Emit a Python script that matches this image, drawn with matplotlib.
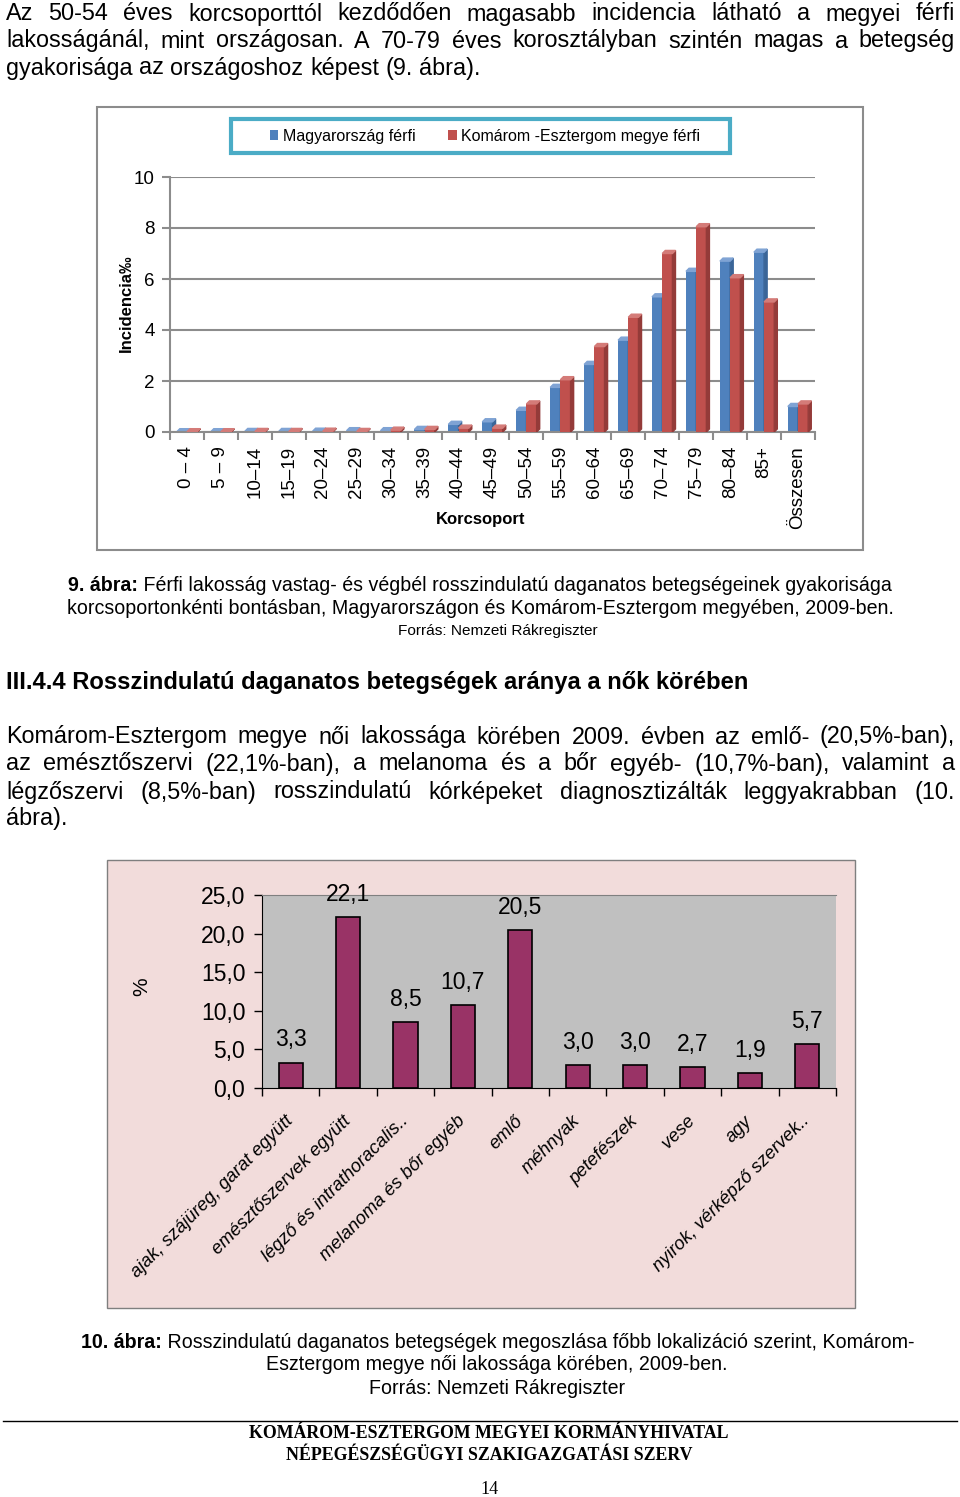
import matplotlib.pyplot as plt
from matplotlib.patches import Rectangle, Polygon
from matplotlib.lines import Line2D
from matplotlib.ticker import FixedLocator
import numpy as np

# --- data: chart 9 (male incidence per mille) ---
age_groups = ['0 – 4', '5 – 9', '10–14', '15–19', '20–24', '25–29', '30–34', '35–39',
              '40–44', '45–49', '50–54', '55–59', '60–64', '65–69', '70–74', '75–79',
              '80–84', '85+', 'Összesen']
hungary_male = [0.01, 0.01, 0.02, 0.02, 0.03, 0.05, 0.05, 0.10, 0.30, 0.40,
                0.85, 1.75, 2.65, 3.60, 5.30, 6.30, 6.70, 7.05, 1.00]
county_male = [0.01, 0.01, 0.02, 0.02, 0.03, 0.02, 0.07, 0.10, 0.15, 0.15,
               1.10, 2.05, 3.35, 4.50, 7.00, 8.05, 6.05, 5.10, 1.10]
series_names = ['Magyarország férfi', 'Komárom -Esztergom megye férfi']
y1_ticks = [0, 2, 4, 6, 8, 10]

# --- data: chart 10 (female cancer distribution, %) ---
sites = ['ajak, szájüreg, garat együtt', 'emésztőszervek együtt',
         'légző és intrathoracalis..', 'melanoma és bőr egyéb', 'emlő', 'méhnyak',
         'petefészek', 'vese', 'agy', 'nyirok, vérképző szervek..']
site_pct = [3.3, 22.1, 8.5, 10.7, 20.5, 3.0, 3.0, 2.7, 1.9, 5.7]
y2_ticks = [0, 5, 10, 15, 20, 25]

W, H = 960, 1497
plt.rcParams['font.family'] = ['Liberation Sans', 'DejaVu Sans']
fig = plt.figure(figsize=(W / 100, H / 100), dpi=100)
renderer = fig.canvas.get_renderer()


def fx(x):
    return x / W


def fy(y):
    return 1 - y / H


def width_of(t):
    return t.get_window_extent(renderer).width


def justify(line, y, size, x0=6, x1=955, last=False, weight='normal'):
    words = line.split()
    ts = [fig.text(0, fy(y), w, fontsize=size, va='center', fontweight=weight) for w in words]
    ws = [width_of(t) for t in ts]
    if last or len(ts) == 1:
        gap = size * 0.278 * 100 / 72
    else:
        gap = (x1 - x0 - sum(ws)) / (len(ts) - 1)
    x = x0
    for t, w in zip(ts, ws):
        t.set_x(fx(x))
        x += w + gap


def fit(parts, target, family=None):
    ts = [fig.text(0, 0, s, fontsize=12, fontweight=wt, family=family) for s, wt in parts]
    w = sum(width_of(t) for t in ts)
    for t in ts:
        t.remove()
    return 12 * target / w


def centered(parts, y, size, cx=480, family=None):
    ts = [fig.text(0, fy(y), s, fontsize=size, fontweight=wt, va='center', family=family)
          for s, wt in parts]
    ws = [width_of(t) for t in ts]
    x = cx - sum(ws) / 2
    for t, w in zip(ts, ws):
        t.set_x(fx(x))
        x += w


# ---------------- page text ----------------
ps = 16.8
justify('Az 50-54 éves korcsoporttól kezdődően magasabb incidencia látható a megyei férfi', 14, ps)
justify('lakosságánál, mint országosan. A 70-79 éves korosztályban szintén magas a betegség', 41, ps)
justify('gyakorisága az országoshoz képest (9. ábra).', 68, ps, last=True)

cap9 = [('9. ábra:', 'bold'),
        (' Férfi lakosság vastag- és végbél rosszindulatú daganatos betegségeinek gyakorisága', 'normal')]
cs = fit(cap9, 822)
centered(cap9, 585, cs)
centered([('korcsoportonkénti bontásban, Magyarországon és Komárom-Esztergom megyében, 2009-ben.',
           'normal')], 608, cs)
src = [('Forrás: Nemzeti Rákregiszter', 'normal')]
centered(src, 631, fit(src, 200), cx=498)

head = 'III.4.4 Rosszindulatú daganatos betegségek aránya a nők körében'
fig.text(fx(6), fy(683), head, fontsize=fit([(head, 'bold')], 737), fontweight='bold', va='center')

justify('Komárom-Esztergom megye női lakossága körében 2009. évben az emlő- (20,5%-ban),', 737, ps)
justify('az emésztőszervi (22,1%-ban), a melanoma és a bőr egyéb- (10,7%-ban), valamint a', 764, ps)
justify('légzőszervi (8,5%-ban) rosszindulatú kórképeket diagnosztizálták leggyakrabban (10.', 792, ps)
justify('ábra).', 819, ps, last=True)

cap10 = [('10. ábra:', 'bold'),
         (' Rosszindulatú daganatos betegségek megoszlása főbb lokalizáció szerint, Komárom-', 'normal')]
cs10 = fit(cap10, 830)
centered(cap10, 1342, cs10, cx=498)
centered([('Esztergom megye női lakossága körében, 2009-ben.', 'normal')], 1365, cs10, cx=497)
centered(src, 1388, cs10, cx=497)

fig.add_artist(Line2D([fx(3), fx(957)], [fy(1421), fy(1421)], color='black', lw=1))
serif = ['Liberation Serif', 'DejaVu Serif']
foot1 = [('KOMÁROM-ESZTERGOM MEGYEI KORMÁNYHIVATAL', 'bold')]
fs = fit(foot1, 480, family=serif)
centered(foot1, 1433, fs, cx=489, family=serif)
centered([('NÉPEGÉSZSÉGÜGYI SZAKIGAZGATÁSI SZERV', 'bold')], 1455, fs, cx=489, family=serif)
centered([('14', 'normal')], 1489, 13, cx=489, family=serif)

# ---------------- chart 9 ----------------
fig.add_artist(Rectangle((fx(97), fy(550)), (863 - 97) / W, (550 - 107) / H,
                         transform=fig.transFigure, facecolor='white', edgecolor='#8C8C8C',
                         lw=1.5, zorder=-1))
fig.add_artist(Rectangle((fx(231), fy(153)), (730 - 231) / W, (153 - 119) / H,
                         transform=fig.transFigure, facecolor='white', edgecolor='#4BACC6',
                         lw=3, zorder=-0.5))

ax1 = fig.add_axes([fx(170), fy(432), (815 - 170) / W, (432 - 177) / H])
ax1.set_facecolor('none')
x = np.arange(len(age_groups))
bw = 0.3
dx, dy = 0.09, 0.12
b1 = ax1.bar(x - bw / 2, hungary_male, bw, color='#4F81BD', zorder=2)
b2 = ax1.bar(x + bw / 2, county_male, bw, color='#C0504D', zorder=3)
for bars, side, top, z in [(b1, '#3A6598', '#7FA3D4', 2), (b2, '#943B39', '#D47B78', 3)]:
    for r in bars:
        x0, x1, h = r.get_x(), r.get_x() + r.get_width(), r.get_height()
        ax1.add_patch(Polygon([(x1, 0), (x1 + dx, dy), (x1 + dx, h + dy), (x1, h)],
                              closed=True, color=side, zorder=z))
        ax1.add_patch(Polygon([(x0, h), (x0 + dx, h + dy), (x1 + dx, h + dy), (x1, h)],
                              closed=True, color=top, zorder=z))
ax1.set_xlim(-0.5, len(age_groups) - 0.5)
ax1.set_ylim(0, 10)
ax1.set_yticks(y1_ticks)
ax1.yaxis.grid(True, color='#8C8C8C', lw=1.5, zorder=0)
ax1.set_axisbelow(True)
ax1.set_xticks(x)
ax1.set_xticklabels(age_groups, rotation=90, fontsize=13.5)
ax1.xaxis.set_minor_locator(FixedLocator(np.arange(-0.5, len(age_groups), 1)))
ax1.tick_params(axis='x', which='major', length=0, pad=10)
ax1.tick_params(axis='x', which='minor', length=6, color='#8C8C8C', width=1.5)
ax1.tick_params(axis='y', length=6, color='#8C8C8C', width=1.5, labelsize=13.5, pad=5)
for s in ['top', 'right']:
    ax1.spines[s].set_visible(False)
for s in ['left', 'bottom']:
    ax1.spines[s].set_color('#8C8C8C')
    ax1.spines[s].set_linewidth(1.5)
ax1.set_ylabel('Incidencia‰', fontsize=12, fontweight='bold')
ax1.yaxis.set_label_coords((134 - 170) / 645, (432 - 303) / 255)
ax1.set_xlabel('Korcsoport', fontsize=12, fontweight='bold')
ax1.xaxis.set_label_coords((481 - 170) / 645, -(512 - 432) / 255)
ax1.legend([b1, b2], series_names, loc='center', bbox_to_anchor=(fx(485), fy(136)),
           bbox_transform=fig.transFigure, ncol=2, frameon=False, fontsize=11.5,
           handlelength=0.55, handleheight=0.55, handletextpad=0.3, columnspacing=2.0)

# ---------------- chart 10 ----------------
fig.add_artist(Rectangle((fx(107), fy(1308)), (855 - 107) / W, (1308 - 860) / H,
                         transform=fig.transFigure, facecolor='#F2DCDB', edgecolor='#7F7F7F',
                         lw=1, zorder=-1))
ax2 = fig.add_axes([fx(262), fy(1088), (836 - 262) / W, (1088 - 895) / H])
ax2.set_facecolor('#C0C0C0')
x2 = np.arange(len(sites))
bars2 = ax2.bar(x2, site_pct, 0.42, color='#993366', edgecolor='black', lw=1.2)
ax2.bar_label(bars2, labels=[f'{v:.1f}'.replace('.', ',') for v in site_pct],
              padding=8, fontsize=16.5)
ax2.set_xlim(-0.5, len(sites) - 0.5)
ax2.set_ylim(0, 25)
ax2.set_yticks(y2_ticks)
ax2.set_yticklabels([f'{v:.1f}'.replace('.', ',') for v in y2_ticks], fontsize=16.5)
ax2.set_xticks(x2)
ax2.set_xticklabels(sites, rotation=45, ha='right', va='center', rotation_mode='anchor',
                    fontsize=13.2, fontstyle='italic')
ax2.xaxis.set_minor_locator(FixedLocator(np.arange(-0.5, len(sites), 1)))
ax2.tick_params(axis='x', which='major', length=0, pad=22)
ax2.tick_params(axis='x', which='minor', length=6, width=1)
ax2.tick_params(axis='y', length=6, width=1, pad=6)
ax2.spines['right'].set_visible(False)
ax2.spines['top'].set_color('#808080')
ax2.set_ylabel('%', fontsize=15)
ax2.yaxis.set_label_coords((151 - 262) / 574, (1088 - 987) / 193)

fig.savefig('out.png', dpi=100)
